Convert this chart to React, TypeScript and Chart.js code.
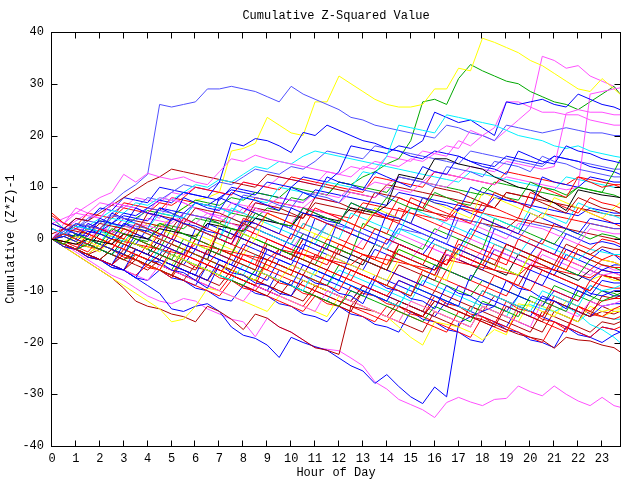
import React, { useEffect, useRef } from "react";
import { Chart, registerables } from "chart.js";

Chart.register(...registerables);

// x positions (hour of day) of each sample
const hours = [0,0.5,1,1.5,2,2.5,3,3.5,4,4.5,5,5.5,6,6.5,7,7.5,8,8.5,9,9.5,10,10.5,11,11.5,12,12.5,13,13.5,14,14.5,15,15.5,16,16.5,17,17.5,18,18.5,19,19.5,20,20.5,21,21.5,22,22.5,23,23.5,23.75];
const xTickValues = [0,1,2,3,4,5,6,7,8,9,10,11,12,13,14,15,16,17,18,19,20,21,22,23];
const yTickValues = [-40,-30,-20,-10,0,10,20,30,40];

const titleText = "Cumulative Z-Squared Value";
const xTitle = "Hour of Day";
const yTitle = "Cumulative (Z*Z)-1";

// top outliers
const top1 = [0,1,2,4,5.5,7,9,10.5,12.5,26,25.5,26,26.5,29,29,29.5,29,28.5,27.5,26.5,29.5,28,27,26,25,23.5,23,22,21.5,21,20.5,20,19.5,22,21.5,20.5,20,19,22,21.5,21,20.5,21,21.5,21,20.5,20.5,20,20];
const top2 = [0,-0.5,0.5,0,1,0.5,2,1.5,3,2.5,4,6,7.5,8,9,17,17.5,18.5,23.5,22,20.5,20,26.5,26.5,31.5,30,28.5,27,26,25.5,25.5,26,29,29,33,32.5,38.8,38,37,36,34.5,33.5,32,30.5,29,28.5,31,29,28];
const top3 = [0,1,0.5,2,1.5,1,2.5,2,1.5,3,2.5,2,4,3.5,3,5,4.5,4,6,5.5,8,7.5,9,8.5,11,10.5,12,13,14.5,15.5,19,26.5,27,26,31,33.7,32.5,31.5,30.5,30,28.5,27.5,26.5,26,25,26.5,28,29.5,28];
const top4 = [0,2,3.5,5,7,6.5,6,8,7.5,7,9,8.5,10,9.5,9,8.5,11,10.5,10,12,11.5,11,10.5,13,12.5,12,14,13.5,16,15.5,15,17,16.5,16,19,18,20,19,21,23,25,35.3,34.5,33,33.5,31.5,30.5,29.5,28];

// middle mass
const m01 = [0,1,0,-1,2,1,0,3,2,1,0,4,3,2,1,0,3,2,5,4,3,2,6,5,4,3,2,5,4,8,7,6,5,4,7,6,5,9,8,7,6,10,9,8,12,11,10,10.5,10];
const m02 = [3,2,1,0.5,4,3,2.5,6,5,4.5,3.5,8,7,6,5.5,9,8,7.5,6.5,5.5,10,9,8,12,11,10.5,9.5,13,12,11,10,14,13,12.5,16,15,14,13.5,12.5,17,16,15,14.5,18,17,16.5,15.5,15,14.7];
const m03 = [0,1,2.5,2,1.5,4,3.5,3,2,5,4.5,4,7,6.5,6,5,8,7.5,7,10,9.5,9,8,11,10.5,10,13,12.5,16,22,21.5,21,20.5,24,23.5,23,22.5,22,21,20,19.5,19,18,17.5,18,17,16.5,16,15.8];
const m04 = [0,-1,1,0,-1,2,1,0,-0.5,3,2,1,0,4,3,2,1.5,5,4,3,2.5,6,5,4,3,7,6,5,8,7,6,5.5,9,8,7,6.5,10,9,8,7.5,11,10,9.5,8.5,10,9.5,9,13,15.3];
const m05 = [0,0.5,-0.5,1.5,1,0,3,2,1.5,0.5,4,3,2.5,1.5,1,0,3.5,3,2,1,6,5,4.5,3.5,3,7,6,5.5,4.5,4,3,8,7,6.5,5.5,10,9,8.5,7.5,7,6,12,11,10.5,10,12,11.5,11,11];
const m06 = [0,-0.5,-1,0,-0.5,-1,1,0.5,0,2,1.5,1,0.5,3,2.5,2,1.5,4,3.5,3,2.5,5,4.5,4,3.5,6,5.5,5,6.5,12.5,12,11.5,15.5,15.5,14.5,14,13.5,12,11,10,9.5,8,7,5.5,9.5,9,8.5,8.2,8];
const m07 = [0,1.5,3,2.5,2,4.5,4,3.5,6,5.5,5,4,7,6.5,6,5,8.5,8,7.5,6.5,6,9,8.5,8,7,10,9.5,9,8,12,11.5,11,10,14,13.5,13,12,15,14.5,14,13,16,15,14.5,13.5,13,12.5,12,12];
const m08 = [0,-1,-2,1,0,-1,-2,2,1,0,-1,3,2,1,0,-1,4,3,2,1,0,5,4,3,2,1,6,5,4,3,8,7,6,5,4,3,7,6,5,4,9,8,7,6,5,8,7,6.5,6];
const m09 = [3,2,1.5,1,3,2.5,2,1,5,4.5,4,3,6,5.5,5,4,3,7,6.5,6,5,4,8,7.5,7,6,5,9,8.5,8,7,6,10,9.5,9,8,7,6,9,8.5,8,7,6,5,8,7,6,5.5,5];
const m10 = [0,-1,0.5,-0.5,-1.5,1,0,-1,-2,2,1,0,-1,-2,3,2,1,0,5,4,3,2,1,0,4,3,2,6,5,4,3,8,7,6,5,4,9,8,7,6,5,4,8,7,6,5,4,6,7];
const m11 = [2,1,0,-1,1.5,0.5,-0.5,2,1,0,-1,3,2,1,0,4,3,2,1,0,-1,3,2,1,0,5,4,3,2,1,6,5,4,3,2,1,5,4,3,2,6,5,4,3,7,6,5,4.5,4];
const m12 = [0,-1,-2,0,-1,-2,-3,1,0,-1,-2,-3,2,1,0,-1,3,2,1,0,-1,-2,4,3,2,1,0,-1,5,4,3,2,1,0,6,5,4,3,2,1,5,4,3,2,1,4,3.5,3,3];
const m13 = [5,3,2,1,0,-1,2,1,0,-1,4,3,2,1,0,-1,-2,2,1,0,-1,3,2,1,0,-1,-2,2,1,6,5,4,3,2,1,0,4,3,2,1,0,-1,3,2,6,5,4,3,2.5];
const m14 = [0,0.5,2,1.5,1,0,3,2.5,2,1,0,5,4.5,4,3,2,1,4,3.5,3,2,1,0,3,2.5,2,1,0,-1,2,1.5,1,0,-1,4,3.5,3,2,1,0,3,2.5,2,1,0,3,2.5,2,2];
const m15 = [3,4,5,4.5,4,7,6.5,6,5,8,7.5,7,6,5,4,7,6.5,6,5,4,3,6,5.5,5,4,3,2,5,4.5,4,3,2,1,4,3.5,3,2,1,0,3,2.5,2,1,0,-1,2,1.5,1,1];
const m16 = [0,-1,-2,-1,-2,-3,0,-1,-2,-3,-4,0,-1,-2,-3,2,1,0,-1,-2,-3,1,0,-1,-2,-3,3,2,1,0,-1,-2,2,1,0,-1,-2,4,3,2,1,0,-1,2,1,0,1,0.5,0];
const m17 = [0,-0.5,-1.5,-2.5,0,-1,-2,-3,-4,-1,-2,-3,-4,-5,-2,-3,-4,-5,0,-1,-2,-3,-4,-5,-1,-2,-3,-4,0,-1,-2,-3,-4,-5,-1,-2,-3,-4,-5,0,-1,-2,-3,-4,-1,-2,0,-0.5,-1];
const m18 = [0,1,0,3,2,1,0,-1,2,1,0,-1,-2,3,2,1,0,-1,-2,-3,1,0,-1,-2,4,3,2,1,0,-1,-2,-3,0,-1,-2,-3,-4,2,1,0,-1,-2,-3,1,0,-1,-0.5,-1,-1.5];
const m19 = [0,-1,-2,-3,-4,-2,-3,-4,-5,-3,-4,-5,-6,-2,-3,-4,-5,-6,-1,-2,-3,-4,-5,-6,-2,-3,-4,-5,-6,-1,-2,-3,-4,-5,-2,-3,-4,-5,-1,-2,-3,-4,-5,-1,-2,-3,-1.5,-2,-2];
const m20 = [4,2,1,0,-1,3,2,1,0,-1,4,3,2,1,0,6,5,4,3,2,1,0,-1,3,2,1,0,-1,-2,2,1,0,-1,-2,-3,1,0,-1,-2,-3,0,-1,-2,-3,-4,-2,-2.5,-3,-3];
const m21 = [0,-1,-2,-3,-4,-5,-3,-4,-5,-6,-2,-3,-4,-5,-6,-7,-3,-4,-5,-6,-7,-2,-3,-4,-5,-6,-7,-8,-3,-4,-5,-6,-7,-2,-3,-4,-5,-6,-1,-2,-3,-4,-5,-6,-2,-3,-4,-3,-3.5];
const m22 = [2,1,3,2,1,5,4,3,2,6,5,4,3,2,8,7,6,5,4,3,2,6,5,4,3,2,1,0,-1,3,2,1,0,-1,-2,2,1,0,-1,-2,-3,0,-1,-2,-3,-4,-2,-3,-4];
const m23 = [0,-1,-2,-3,-1,-2,-3,-4,-5,-6,-3,-4,-5,-6,-7,-4,-5,-6,-7,-8,-5,-6,-7,-3,-4,-5,-6,-7,-8,-4,-5,-6,-7,-8,-2,-3,-4,-5,-6,-7,-3,-4,-5,-6,-2,-3,-4,-4.5,-5];
const m24 = [0,1,0,-1,2,1,0,-1,-2,1,0,-1,-2,-3,2,1,0,-1,-2,-3,-4,0,-1,-2,-3,1,0,-1,-2,-3,-4,-5,-1,-2,-3,-4,-5,-1,-2,-3,-4,-5,-6,-2,-3,-4,-5,-5.5,-5.5];
const m25 = [0,-1,1,0,-1,-2,-3,0,-1,-2,2,1,0,-1,-2,-3,1,0,-1,-2,-3,-4,-5,-1,-2,-3,-4,-5,-6,-2,-3,-4,-5,-6,-7,-8,-4,-5,-6,-7,-3,-4,-5,-6,-7,-4,-5,-5.5,-6];
const m26 = [0,-1,-2,-3,-4,-5,-6,-2,-3,-4,-5,-6,-7,-8,-4,-5,-6,-7,-2,-3,-4,-5,-6,-7,-8,-3,-4,-5,-6,-7,-8,-9,-5,-6,-7,-8,-4,-5,-6,-7,-8,-9,-5,-6,-7,-8,-6,-6.5,-6.5];
const m27 = [4,3,6,5,4,7,6.5,6,5,4,8,7,6,5,4,3,2,5,4,3,2,1,0,3,2,1,0,-1,-2,1,0,-1,-2,-3,-4,0,-1,-2,-3,-4,-5,-2,-3,-4,-5,-6,-7,-6.5,-7];
const m28 = [0,-1,-2,-3,-1,-2,-3,-4,-5,-6,-7,-3,-4,-5,-6,-7,-8,-9,-4,-5,-6,-7,-8,-9,-10,-6,-7,-8,-9,-10,-11,-6,-7,-8,-9,-10,-11,-7,-8,-9,-10,-6,-7,-8,-9,-10,-7,-7.5,-7.5];
const m29 = [0,1,0,-1,-2,0,-1,-2,-3,-4,-1,-2,-3,-4,-5,-6,-2,-3,-4,-5,-6,-7,-3,-4,-5,-6,-7,-8,-9,-5,-6,-7,-8,-3,-4,-5,-6,-7,-8,-9,-5,-6,-7,-8,-9,-10,-7,-7.5,-8];
const m30 = [0,-1,-2,-3,-4,-5,-1,-2,-3,-4,-5,-6,-7,-2,-3,-4,-5,-6,-7,-8,-9,-5,-6,-7,-8,-9,-10,-11,-12,-8,-9,-10,-11,-12,-13,-7,-8,-9,-10,-11,-6,-7,-8,-9,-10,-11,-8,-8.5,-8.5];
const m31 = [0,-1,-2,0,-1,-2,-3,-4,-5,-2,-3,-4,-5,-6,-7,-8,-5,-6,-7,-8,-9,-10,-6,-7,-8,-9,-10,-11,-12,-13,-9,-10,-11,-12,-13,-14,-10,-11,-12,-13,-14,-10,-11,-12,-13,-9,-10,-9.5,-9];
const m32 = [0,2,1,0,-1,-2,1,0,-1,-2,-3,-4,0,-1,-2,-3,-4,-5,-6,-2,-3,-4,-5,-6,-7,-8,-4,-5,-6,-7,-8,-9,-10,-6,-7,-8,-9,-10,-11,-7,-8,-9,-10,-11,-12,-8,-9,-9.5,-9.5];
const m33 = [0,-1.5,-2,-3.5,-4,-5.5,-6,-7.5,-4,-4.5,-6,-6.5,-8,-9.5,-5,-6.5,-7,-8.5,-9,-10.5,-11,-7,-8.5,-9,-10.5,-11,-12.5,-8,-9.5,-10,-11.5,-12,-13.5,-9,-10.5,-11,-12.5,-13,-8,-9.5,-10,-11.5,-12,-13.5,-9,-10.5,-11,-10,-10];
const m34 = [0,-1,-2,-3,-4,-2,-3,-4,-5,-6,-7,-4,-5,-6,-7,-8,-9,-6,-7,-8,-9,-10,-11,-12,-13,-10,-11,-12,-13,-14,-15,-16,-13,-14,-15,-16,-12,-13,-14,-15,-11,-12,-13,-14,-10,-11,-12,-11,-10.5];
const m35 = [0,-1,-2,-3,-4,-5,-6,-4,-5,-6,-7,-8,-5,-6,-7,-8,-9,-10,-11,-8,-9,-10,-11,-12,-13,-14,-10,-11,-12,-13,-14,-15,-12,-13,-14,-15,-16,-17,-13,-14,-15,-16,-12,-13,-14,-15,-11,-11.5,-11];
const m36 = [0,-1,1,0,-1,-2,-3,-4,-1,-2,-3,-4,-5,-6,-7,-3,-4,-5,-6,-7,-8,-9,-10,-6,-7,-8,-9,-10,-11,-8,-9,-10,-11,-12,-13,-14,-10,-11,-12,-13,-14,-15,-11,-12,-13,-14,-12,-11.5,-11.5];
const m37 = [0,-1,-2,-3,-4,-5,-6,-7,-8,-5,-6,-7,-8,-9,-10,-11,-12,-9,-10,-11,-12,-13,-14,-10,-11,-12,-13,-14,-15,-16,-12,-13,-14,-15,-16,-17,-13,-14,-15,-16,-17,-12,-13,-14,-15,-12,-13,-12.5,-12];
const m38 = [0,1,0,-1,-2,-3,0,-1,-2,-3,-4,-5,-2,-3,-4,-5,-6,-7,-8,-4,-5,-6,-7,-8,-9,-10,-11,-7,-8,-9,-10,-11,-12,-13,-9,-10,-11,-12,-13,-14,-15,-11,-12,-13,-14,-15,-13,-12.5,-12.5];
const m39 = [0,-1,-2,-3,-4,-5,-6,-7,-5,-6,-7,-8,-9,-10,-11,-8,-9,-10,-11,-12,-13,-14,-11,-12,-13,-14,-15,-16,-13,-14,-15,-16,-17,-18,-14,-15,-16,-17,-18,-14,-15,-16,-17,-18,-13,-14,-15,-13.5,-13];
const m40 = [0,-1.5,-3,-4.5,-6,-7.5,-9,-10.5,-12,-13.5,-16,-15.5,-13,-9.5,-10,-11,-12,-13,-14,-11,-12,-13,-14,-15,-11,-12,-13,-14,-15,-16,-12,-13,-14,-15,-16,-17,-13,-14,-15,-16,-12,-13,-14,-15,-16,-13,-14,-13.5,-13.5];
const m41 = [0,0.5,-0.5,-1.5,-2.5,0,-1,-2,-3,-4,-5,-2,-3,-4,-5,-6,-7,-8,-5,-6,-7,-8,-9,-10,-11,-12,-13,-14,-15,-17,-19,-20.5,-16,-16.5,-17,-18,-19.5,-17.5,-18.5,-12.5,-13,-14,-15,-12,-13,-14,-15,-14,-14];
const m42 = [0,-1.5,-3,-4.5,-6,-7.5,-9.5,-12,-13,-13.5,-14.5,-15,-16,-13,-14,-15.5,-17.5,-14.5,-15.3,-17,-18,-19.5,-21,-21.5,-22.3,-13,-13.5,-14,-15,-16,-17,-18,-14,-15,-16,-17,-13,-14,-15,-16,-17,-18,-14,-15,-16,-12,-13,-14,-14];
const m43 = [0,-1,-2,-3,-4,-5,-6,-7.5,-9,-10.5,-13.5,-14,-13,-12.5,-14,-17,-18.6,-19.2,-20.5,-22.9,-19,-20,-20.8,-21.5,-23,-24.5,-25.5,-27.9,-26.2,-28.5,-30.5,-31.8,-28.6,-30.5,-16.3,-15,-14,-13,-14,-11,-12,-13,-10,-11,-12,-9,-10,-11,-11];
const m44 = [0,-1,-2.5,-4,-5.5,-7,-8,-9.5,-11,-12,-12.5,-11.5,-12,-13.5,-14.5,-15.5,-16,-18.9,-15.3,-17,-18,-19.5,-21,-21.3,-21.6,-23,-24.5,-27.6,-29,-31,-32,-33,-34.5,-31.6,-30.6,-31.5,-32.2,-31,-30.8,-28.4,-29.5,-30.3,-28.4,-30,-31.3,-32.2,-30.6,-32.2,-32.5];
const m45 = [0,-1,-2,-3,-4,-5,-2,-3,-4,-5,-6,-7,-8,-5,-6,-7,-8,-9,-10,-11,-8,-9,-10,-11,-12,-13,-10,-11,-12,-13,-14,-15,-12,-13,-14,-15,-15.6,-16.5,-17.5,-18.4,-19,-19.5,-21.1,-19,-19.5,-19.7,-20.5,-21,-21.8];
const m46 = [0,-1,-2,-3,-1,-2,-3,-4,-5,-6,-3,-4,-5,-6,-7,-8,-9,-6,-7,-8,-9,-10,-11,-12,-8,-9,-10,-11,-12,-13,-9,-10,-11,-12,-13,-14,-10,-11,-12,-13,-12.7,-13.5,-14,-13,-14.5,-16.5,-17.5,-19,-20];
const m47 = [0,-1.5,-2,-3.5,-4,-2,-3.5,-4,-5.5,-6,-7.5,-4,-5.5,-6,-7.5,-8,-9.5,-10,-7,-8.5,-9,-10.5,-11,-12.5,-13,-9,-10.5,-11,-12.5,-13,-14.5,-15,-11,-12.5,-13,-14.5,-15,-16.5,-12,-13.5,-14,-15.5,-16,-17.5,-13,-14.5,-15,-15.5,-15];
const m48 = [0,1,0,-1,-2,-3,-4,-2,-3,-4,-5,-6,-7,-8,-5,-6,-7,-8,-9,-10,-11,-12,-9,-10,-11,-12,-13,-14,-15,-12,-13,-14,-15,-16,-17,-13,-14,-15,-16,-17,-18,-14,-15,-16,-17,-18,-16,-16.5,-16];
const m49 = [0,-1,-2,-3,-4,-5,-6,-3,-4,-5,-6,-7,-8,-9,-10,-7,-8,-9,-10,-11,-12,-13,-10,-11,-12,-13,-14,-15,-16,-13,-14,-15,-16,-17,-18,-19,-15,-16,-17,-18,-19,-20,-16,-17,-18,-19,-17,-17.5,-17];
const m50 = [0,-1.5,-2,-3.5,-4,-5.5,-6,-7.5,-8,-6,-7.5,-8,-9.5,-10,-11.5,-12,-9,-10.5,-11,-12.5,-13,-14.5,-15,-16,-13,-14.5,-15,-16.5,-17,-18,-14,-15.5,-16,-17.5,-18,-19.5,-20,-16,-17.5,-18,-19.5,-20,-21,-17,-18.5,-19,-20,-18.5,-18];

// upper band
const u01 = [0,1,0.5,2,1.5,3,4.5,4,3.5,6,5.5,5,7,6.5,8,9.5,9,8.5,11,10.5,10,12,11.5,11,13,18,17.5,17,16.5,18,17.5,19,24.5,23.5,22.5,23,21.5,20,26.5,26,26.5,27,26,25.5,28,27,26,25.5,25];
const u02 = [0,3,5,6.5,8,9,12.5,11,12.7,12,11.5,12,11,10.5,13,15.5,15,16.2,15.5,15,14.5,14,13.5,13,12.5,14,13.5,15,14.5,14,15.5,15,16.5,18,17.5,21,20,21.5,26.5,26.5,25.5,24.5,24.5,24,24,23,22.5,22,22];
const u03 = [2,1,2,1.5,1,3,2.5,2,4,3.5,3,5,4.5,4,6,5.5,5,7,6.5,8,7.5,7,9,8.5,8,10,9.5,11,10.5,12,11.5,11,13,12.5,12,14,13.5,13,15,14.5,14,13.5,14,24.3,25,24.5,24.5,24,24];
const u04 = [0,-1,1,0,2,1.5,1,3,2.5,2,4,3.5,3,5,4.5,4,6,5.5,5,7,6.5,6,8,7.5,7,9,8.5,8,10,9.5,9,11,10.5,10,12,11.5,11,10.5,12,11.5,11,10.5,10,9.5,10,28,28.5,29,29.2];
const u05 = [0,1,2.5,2,3.5,3,5,4.5,6,7.5,7,9,8.5,8,11,18.6,18,19.4,19,18,16.7,20.6,20,22,21,20,19,18.5,17.5,17,16,15.5,17,16.5,16,15,14.5,14,16,15.5,15,14.5,16,15.5,15,14,13.5,13,12.5];
const u06 = [0,1.5,3,2.5,4,5.5,5,7,6.5,8,7.5,9,10.5,10,11.5,11,12.5,14,13.5,15,14.5,16,17,16.5,16,15.5,15,14.5,14,13.5,13,12.5,12,11.5,11,13,12.5,12,11.5,11,10.5,10,9.5,12,11.5,11,10.5,10,10];
const u07 = [1,2,4,3.5,5,6.5,8,9.5,11,12,13.5,13,12.5,12,11.5,11,10.5,10,12.5,12,11.5,11,10.5,10,9.5,9,8.5,8,10.5,10,9.5,9,8.5,8,7.5,7,6.5,6,9,8.5,8,7.5,7,6.5,6,5.5,5,4.5,4.5];
const u08 = [2,1,3,2.5,2,4,6,5.5,5,7,6.5,8,10,9.5,9,8.5,11,10.5,10,9.5,12,11.5,11,10.5,10,9.5,9,12,11.5,11,10.5,10,13,12.5,12,11.5,11,10.5,13,12.5,12,11.5,11,10.5,12,11.5,11,10.5,10.5];
const u09 = [0,0.5,2,3.5,3,5,6.5,6,8,7.5,9,10.5,10,9.5,11,10.5,12,13.5,13,12.5,14,13.5,15,17,16.5,16,15.5,18,17.5,17,16.5,16,15.5,15,14.5,17,16.5,16,15.5,15,14.5,14,16,15.5,15,14.5,14,13.5,13.5];
const u10 = [0,1,0.5,2,3.5,3,2.5,4,5.5,5,4.5,6,7.5,7,6.5,8,7.5,9,8.5,8,10,9.5,9,8.5,11,10.5,10,9.5,9,12,11.5,11,10.5,10,9.5,9,8.5,11,10.5,10,9.5,9,8.5,8,10,9.5,9,8.5,8];
const u11 = [0,2,4,3.5,6,5.5,8,7.5,7,10,9.5,9,8.5,8,7.5,10,9.5,9,8.5,8,7.5,7,9.5,9,8.5,8,7.5,7,6.5,9,8.5,8,7.5,7,6.5,6,5.5,8,7.5,7,6.5,6,5.5,5,4.5,6,5.5,5,5];
const u12 = [4.5,3,2.5,5,4.5,4,7,6.5,6,5.5,8,7.5,7,6.5,6,5.5,5,8,7.5,7,6.5,6,5.5,5,4.5,4,7,6.5,6,5.5,5,4.5,4,3.5,6,5.5,5,4.5,4,3.5,3,5,4.5,4,3.5,3,2.5,2,2];
const u13 = [0,1,3,2.5,2,1.5,4,3.5,3,2.5,2,5,4.5,4,3.5,3,2.5,6,5.5,5,4.5,4,7,6.5,6,5.5,5,4.5,4,3.5,6,5.5,5,4.5,4,3.5,3,2.5,2,4,3.5,3,2.5,2,1.5,1,0.5,0,0];

// lower band
const l01 = [0,-0.5,-1,-1.5,-2,0,-0.5,-1,-1.5,-2,-2.5,-3,-1,-1.5,-2,-2.5,-3,-3.5,-4,-2,-2.5,-3,-3.5,-4,-4.5,-5,-3,-3.5,-4,-4.5,-5,-5.5,-6,-4,-4.5,-5,-5.5,-6,-6.5,-7,-5,-5.5,-6,-6.5,-7,-7.5,-6,-6.5,-7];
const l02 = [0,1,0,-1,-2,1,0,-1,-2,-3,0,-1,-2,-3,-4,-5,-1,-2,-3,-4,-5,-1,-2,-3,-4,-5,-6,-2,-3,-4,-5,-6,-7,-3,-4,-5,-6,-2,-3,-4,-5,-6,-7,-3,-4,-5,-6,-5,-5];
const l03 = [0,-1,-2,-1,-2,-3,-4,-3,-4,-5,-6,-2,-3,-4,-5,-6,-7,-8,-4,-5,-6,-7,-8,-9,-5,-6,-7,-8,-9,-10,-11,-7,-8,-9,-10,-11,-8,-9,-10,-11,-12,-13,-9,-10,-11,-12,-10,-10.5,-11];
const l04 = [4,2,1,0,-1,-2,1,0,-1,-2,-3,-4,0,-1,-2,-3,2,1,0,-1,-2,-3,-4,0,-1,-2,-3,-4,-5,-1,-2,-3,-4,-5,0,-1,-2,-3,-4,-5,-6,-2,-3,-4,-5,-6,-4,-4.5,-5];
const l05 = [0,-1,-2,-3,-2,-3,-4,-5,-6,-4,-5,-6,-7,-8,-9,-6,-7,-8,-9,-10,-11,-8,-9,-10,-11,-12,-9,-10,-11,-12,-13,-14,-10,-11,-12,-13,-14,-11,-12,-13,-14,-15,-12,-13,-14,-15,-14,-14.5,-14];
const l06 = [0,1,0,-1,-2,-3,-1,-2,-3,-4,-5,-2,-3,-4,-5,-6,-7,-3,-4,-5,-6,-7,-8,-9,-6,-7,-8,-9,-10,-11,-12,-8,-9,-10,-11,-12,-13,-14,-15,-11,-12,-13,-14,-15,-16,-14,-15,-15.5,-15.5];
const l07 = [0,-1,-2,-3,-4,-5,-3,-4,-5,-6,-7,-8,-9,-5,-6,-7,-8,-9,-10,-6,-7,-8,-9,-10,-11,-12,-9,-10,-11,-12,-13,-14,-15,-12,-13,-14,-15,-16,-17,-13,-14,-15,-16,-17,-18,-19,-17,-17.5,-18];
const l08 = [0,1,0,2,1,0,-1,2,1,0,-1,-2,1,0,-1,-2,-3,0,-1,-2,-3,-4,1,0,-1,-2,-3,-4,-5,-2,-3,-4,-5,-6,-2,-3,-4,-5,-6,-7,-3,-4,-5,-6,-7,-8,-7,-8,-8];
const l09 = [0,0.5,-0.5,-1.5,1,0,-1,-2,-3,0,-1,-2,-3,-4,2,1,0,-1,-2,-3,-4,0,-1,-2,-3,-4,-5,-1,-2,-3,-4,-5,-6,-2,-3,-4,-5,-6,-7,-3,-4,-5,-6,-7,-8,-6,-7,-7.5,-8];
const l10 = [3,2,1,3,2,1,4,3,2,1,0,3,2,1,0,-1,2,1,0,-1,-2,1,0,-1,-2,-3,0,-1,-2,-3,-4,-1,-2,-3,-4,-5,-2,-3,-4,-5,-6,-3,-4,-5,-6,-7,-5,-6,-6];

const palette: Record<string, string> = {
  red: "#ff0000",
  green: "#00a800",
  blue: "#0000ff",
  magenta: "#ff50ff",
  cyan: "#00f0ff",
  darkred: "#b00000",
  yellow: "#ffff00",
  black: "#000000",
  slate: "#5050ff",
};

const seriesList: [number[], string][] = [
  [m01, "red"], [m02, "blue"], [m03, "cyan"], [m04, "green"], [m05, "blue"],
  [m06, "black"], [m07, "slate"], [m08, "red"], [m09, "darkred"], [m10, "yellow"],
  [m11, "cyan"], [m12, "blue"], [m13, "red"], [m14, "slate"], [m15, "magenta"],
  [m16, "green"], [m17, "red"], [m18, "blue"], [m19, "darkred"], [m20, "cyan"],
  [m21, "red"], [m22, "blue"], [m23, "yellow"], [m24, "red"], [m25, "green"],
  [m26, "blue"], [m27, "magenta"], [m28, "red"], [m29, "darkred"], [m30, "blue"],
  [m31, "cyan"], [m32, "red"], [m33, "blue"], [m34, "green"], [m35, "darkred"],
  [m36, "red"], [m37, "magenta"], [m38, "blue"], [m39, "red"], [m40, "yellow"],
  [m41, "yellow"], [m42, "darkred"], [m43, "blue"], [m44, "magenta"], [m45, "darkred"],
  [m46, "cyan"], [m47, "red"], [m48, "darkred"], [m49, "red"], [m50, "blue"],
  [l01, "red"], [l02, "blue"], [l03, "green"], [l04, "red"], [l05, "darkred"],
  [l06, "cyan"], [l07, "blue"], [l08, "yellow"], [l09, "black"], [l10, "magenta"],
  [u01, "blue"], [u02, "magenta"], [u03, "magenta"], [u04, "magenta"], [u05, "blue"],
  [u06, "cyan"], [u07, "darkred"], [u08, "red"], [u09, "slate"], [u10, "green"],
  [u11, "blue"], [u12, "red"], [u13, "darkred"],
  [top1, "slate"], [top2, "yellow"], [top3, "green"], [top4, "magenta"],
];

const FONT = "'Liberation Mono', 'DejaVu Sans Mono', monospace";

const framePlugin = {
  id: "gnuFrame",
  afterDatasetsDraw(chart: any) {
    const { ctx, chartArea } = chart;
    const { left, right, top, bottom } = chartArea;
    const xs = chart.scales.x;
    const ys = chart.scales.y;
    ctx.save();
    ctx.strokeStyle = "#000";
    ctx.lineWidth = 1;
    const x0 = Math.round(left) - 0.5;
    const x1 = Math.round(right) + 0.5;
    const y0 = Math.round(top) + 0.5;
    const y1 = Math.round(bottom) + 0.5;
    ctx.strokeRect(x0, y0, x1 - x0, y1 - y0);
    ctx.beginPath();
    const tl = 6;
    xTickValues.forEach((v) => {
      const px = Math.round(xs.getPixelForValue(v)) - 0.5;
      ctx.moveTo(px, y1);
      ctx.lineTo(px, y1 - tl);
      ctx.moveTo(px, y0);
      ctx.lineTo(px, y0 + tl);
    });
    yTickValues.forEach((v) => {
      const py = Math.round(ys.getPixelForValue(v)) + 0.5;
      ctx.moveTo(x0, py);
      ctx.lineTo(x0 + tl, py);
      ctx.moveTo(x1, py);
      ctx.lineTo(x1 - tl, py);
    });
    ctx.stroke();
    ctx.restore();
  },
  afterDraw(chart: any) {
    const { ctx, chartArea } = chart;
    const cx = (chartArea.left + chartArea.right) / 2;
    const cy = (chartArea.top + chartArea.bottom) / 2;
    ctx.save();
    ctx.fillStyle = "#000";
    ctx.font = `12px ${FONT}`;
    ctx.textAlign = "center";
    ctx.textBaseline = "middle";
    ctx.fillText(titleText, cx, 16);
    ctx.fillText(xTitle, cx, 473);
    ctx.translate(11, cy);
    ctx.rotate(-Math.PI / 2);
    ctx.fillText(yTitle, 0, 0);
    ctx.restore();
  },
};

export default function App() {
  const canvasRef = useRef<HTMLCanvasElement | null>(null);

  useEffect(() => {
    if (!canvasRef.current) return;
    const datasets = seriesList.map(([vals, col]) => ({
      data: vals
        .map((v, i) => ({ x: hours[i], y: v }))
        .filter((p) => p.x !== undefined),
      borderColor: palette[col],
      borderWidth: 1,
      pointRadius: 0,
      tension: 0,
      fill: false,
    }));
    const chart = new Chart(canvasRef.current, {
      type: "line",
      data: { datasets },
      options: {
        animation: false,
        responsive: false,
        devicePixelRatio: 1,
        layout: { padding: { top: 32, right: 20, left: 0, bottom: 0 } },
        plugins: {
          legend: { display: false },
          tooltip: { enabled: false },
          title: { display: false },
        },
        elements: { line: { borderCapStyle: "butt", borderJoinStyle: "miter" } },
        scales: {
          x: {
            type: "linear",
            min: 0,
            max: 23.75,
            grid: { display: false, drawTicks: false },
            border: { display: false },
            afterBuildTicks: (scale: any) => {
              scale.ticks = xTickValues.map((v) => ({ value: v }));
            },
            afterFit: (scale: any) => {
              scale.height = 34;
            },
            ticks: {
              padding: 6,
              color: "#000",
              maxRotation: 0,
              autoSkip: false,
              font: { family: FONT, size: 12 },
              callback: (v: any) => String(v),
            },
          },
          y: {
            type: "linear",
            min: -40,
            max: 40,
            grid: { display: false, drawTicks: false },
            border: { display: false },
            afterBuildTicks: (scale: any) => {
              scale.ticks = yTickValues.map((v) => ({ value: v }));
            },
            afterFit: (scale: any) => {
              scale.width = 52;
            },
            ticks: {
              padding: 8,
              color: "#000",
              font: { family: FONT, size: 12 },
              callback: (v: any) => String(v),
            },
          },
        },
      },
      plugins: [framePlugin],
    });
    return () => chart.destroy();
  }, []);

  return (
    <div style={{ position: "absolute", left: 0, top: 0, width: 640, height: 480, background: "#fff" }}>
      <canvas ref={canvasRef} width={640} height={480} />
    </div>
  );
}
